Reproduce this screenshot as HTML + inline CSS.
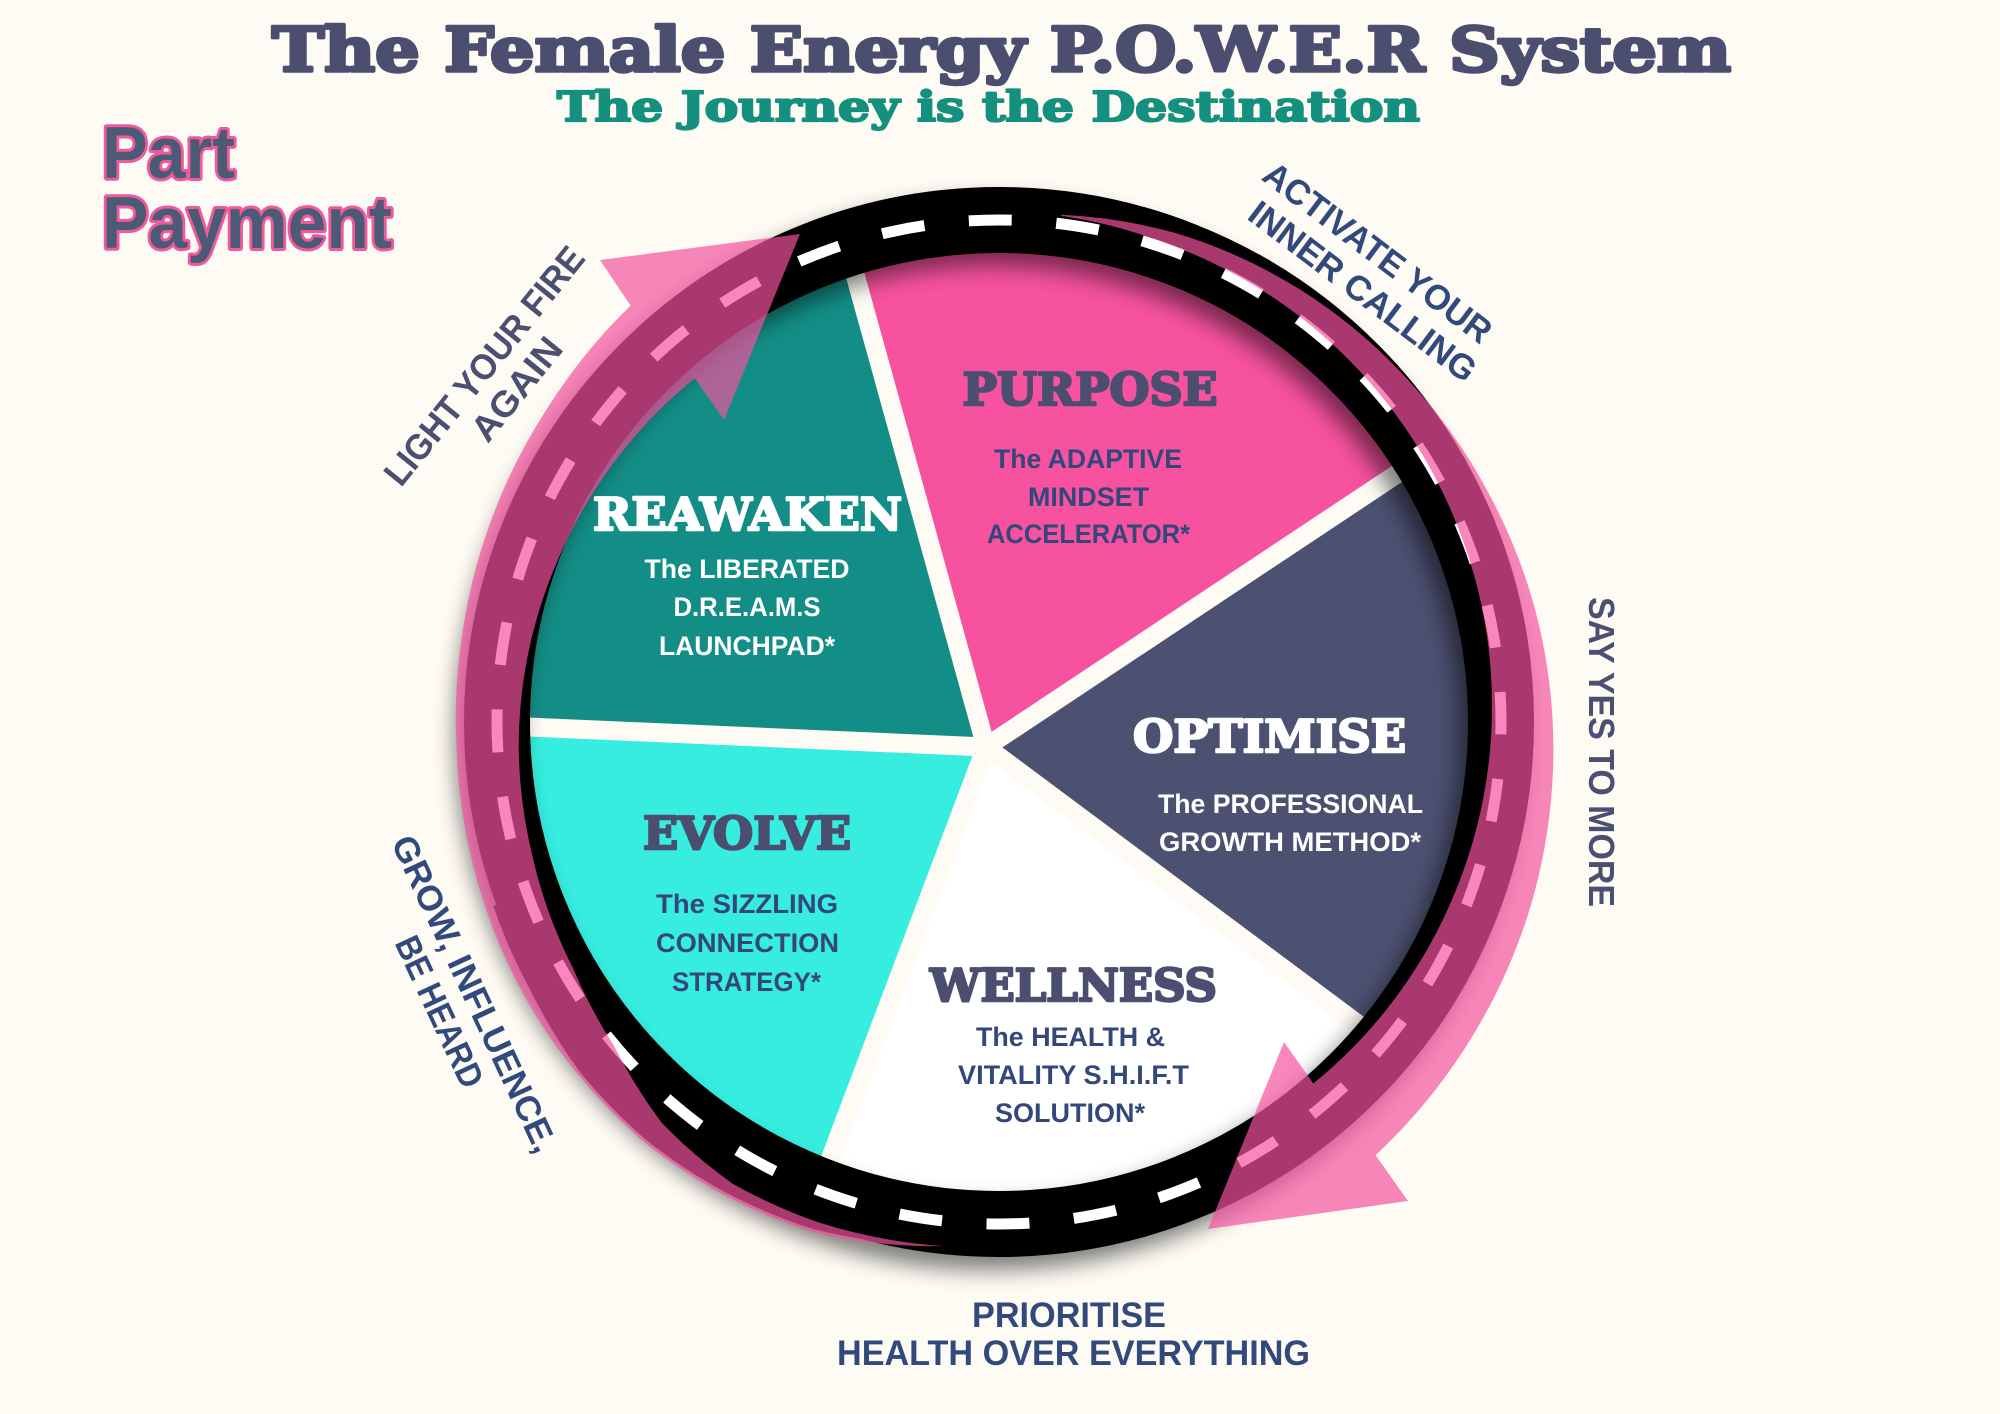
<!DOCTYPE html>
<html>
<head>
<meta charset="utf-8">
<style>
html,body{margin:0;padding:0;background:#fdfbf3;width:2000px;height:1414px;overflow:hidden;}
svg{display:block;}
.sans{font-family:"Liberation Sans","DejaVu Sans",sans-serif;font-weight:bold;}
.slab{font-family:"DejaVu Serif","Liberation Serif",serif;font-weight:bold;}
</style>
</head>
<body>
<svg width="2000" height="1414" viewBox="0 0 2000 1414" xmlns="http://www.w3.org/2000/svg">
<defs>
  <clipPath id="pieclip"><circle cx="999" cy="722" r="482"/></clipPath>
  <filter id="blur" x="-10%" y="-10%" width="120%" height="120%"><feGaussianBlur stdDeviation="11"/></filter>
</defs>
<rect width="2000" height="1414" fill="#fdfbf3"/>

<!-- Pie slices -->
<g clip-path="url(#pieclip)">
  <polygon points="986,747 806.6,100 1652.3,100 1652.3,304.3" fill="#f6529f"/>
  <polygon points="986,747 1652.3,304.3 1627.4,1225.1" fill="#4d5171"/>
  <polygon points="986,747 1467.1,1105.6 1467,1300 777,1300" fill="#ffffff"/>
  <polygon points="986,747 777,1300 186.8,1300 186.8,712.1" fill="#36ede0"/>
  <polygon points="986,747 186.8,712.1 186.8,100 806.6,100" fill="#138e86"/>
  <g stroke="#fdfbf3" stroke-width="19" stroke-linecap="butt">
    <line x1="986" y1="747" x2="806.6" y2="100"/>
    <line x1="986" y1="747" x2="1652.3" y2="304.3"/>
    <line x1="986" y1="747" x2="1467.1" y2="1105.6"/>
    <line x1="986" y1="747" x2="777" y2="1300"/>
    <line x1="986" y1="747" x2="186.8" y2="712.1"/>
  </g>
</g>

<!-- Ring shadow -->
<g filter="url(#blur)" opacity="0.5">
  <circle cx="990" cy="735" r="502" fill="none" stroke="#000" stroke-width="66"/>
</g>

<!-- black backing for lower-left arrow part -->
<path d="M907,1244 A540 540 0 0 1 814.3,1229.4 A542 542 0 0 1 727,1193.1 A545 545 0 0 1 647.4,1141 A546 546 0 0 1 580.7,1073 A543 543 0 0 1 531.4,992 A539 539 0 0 1 493.4,906 L501,903.3 A530 530 0 0 0 540,987 A530 530 0 0 0 593,1062.7 A530 530 0 0 0 658.3,1128 A530 530 0 0 0 734,1181 A530 530 0 0 0 817.7,1220 A530 530 0 0 0 907,1244 Z" fill="#000"/>

<!-- Road -->
<circle cx="999" cy="722" r="502" fill="none" stroke="#000" stroke-width="66"/>
<circle cx="999" cy="722" r="502" fill="none" stroke="#ffffff" stroke-width="11" stroke-dasharray="43 44.62" stroke-dashoffset="30.6"/>

<!-- Arrows (semi-transparent pink) -->
<g fill="#f3519e" opacity="0.69">
  <path d="M1061.3,214.8 A511 511 0 0 1 1176.9,233.4 A520 520 0 0 1 1301.3,290.3 A527 527 0 0 1 1407.5,379.3 A533 533 0 0 1 1488.8,493.6 A540 540 0 0 1 1539.4,626.7 A549 549 0 0 1 1553,770.5 A556 556 0 0 1 1528,914.6 A563 563 0 0 1 1464.9,1048.2 A569 569 0 0 1 1375.6,1155.2 L1408,1201 L1208,1229 L1284,1042 L1313.3,1083.5 A479 479 0 0 0 1394.6,999 A483 483 0 0 0 1456.6,888.6 A487 487 0 0 0 1488.5,764.8 A491 491 0 0 0 1487,636 A496 496 0 0 0 1451.3,511.1 A499 499 0 0 0 1383.9,399.1 A502 502 0 0 0 1288.7,308.3 A505 505 0 0 0 1172.4,245.6 A507 507 0 0 0 1061.2,215.8 Z"/>
  <path d="M943.9,1246.1 A535 535 0 0 1 813.3,1232.2 A545 545 0 0 1 725.5,1195.7 A548 548 0 0 1 645.5,1143.3 A550 550 0 0 1 578.4,1074.9 A548 548 0 0 1 524.4,996 A546 546 0 0 1 472.6,863.1 A544 544 0 0 1 456.7,750.4 A543 543 0 0 1 463.3,627.5 A545 545 0 0 1 485.9,535.3 A548 548 0 0 1 548.5,406.5 A553 553 0 0 1 630.6,305.6 L600,260 L800,234 L724,420 L694.9,378.2 A461 461 0 0 0 618.9,455.9 A467 467 0 0 0 557.3,561.3 A472 472 0 0 0 531.2,639.5 A478 478 0 0 0 518.7,747.2 A483 483 0 0 0 530.5,847.5 A488 488 0 0 0 572.9,968 A497 497 0 0 0 613.7,1045.3 A513 513 0 0 0 662.2,1123.4 A528 528 0 0 0 732.5,1183.6 A532 532 0 0 0 817,1221.9 A530 530 0 0 0 943.9,1246.1 Z"/>
</g>

<!-- Title -->
<text class="slab" x="1001.5" y="71" font-size="61" fill="#4b4e6f" stroke="#4b4e6f" stroke-width="3.5" stroke-linejoin="round" text-anchor="middle" textLength="1459" lengthAdjust="spacingAndGlyphs">The Female Energy P.O.W.E.R System</text>
<text class="slab" x="988.5" y="121" font-size="41" fill="#15907f" stroke="#15907f" stroke-width="2.2" stroke-linejoin="round" text-anchor="middle" textLength="863" lengthAdjust="spacingAndGlyphs">The Journey is the Destination</text>

<!-- Part Payment -->
<g class="sans" font-size="73" fill="#4b5b75" stroke="#f2589c" stroke-width="6" paint-order="stroke" stroke-linejoin="round">
  <text x="102" y="178" textLength="133" lengthAdjust="spacingAndGlyphs">Part</text>
  <text x="102" y="248" textLength="290" lengthAdjust="spacingAndGlyphs">Payment</text>
</g>

<!-- Slice headings -->
<g class="slab" font-size="45" text-anchor="middle" stroke-width="2.5" stroke-linejoin="round">
  <text x="1090" y="405" fill="#4b4e6f" stroke="#4b4e6f" textLength="255" lengthAdjust="spacingAndGlyphs">PURPOSE</text>
  <text x="747.5" y="530" fill="#ffffff" stroke="#ffffff" textLength="309" lengthAdjust="spacingAndGlyphs">REAWAKEN</text>
  <text x="1269.5" y="752" fill="#ffffff" stroke="#ffffff" textLength="273" lengthAdjust="spacingAndGlyphs">OPTIMISE</text>
  <text x="747" y="849" fill="#4b4e6f" stroke="#4b4e6f" textLength="208" lengthAdjust="spacingAndGlyphs">EVOLVE</text>
  <text x="1073.5" y="1001" fill="#4b4e6f" stroke="#4b4e6f" textLength="287" lengthAdjust="spacingAndGlyphs">WELLNESS</text>
</g>

<!-- Slice subtexts -->
<g class="sans" font-size="27" text-anchor="middle">
  <g fill="#34477b">
    <text x="1088" y="468" textLength="188" lengthAdjust="spacingAndGlyphs">The ADAPTIVE</text>
    <text x="1088.5" y="506" textLength="121" lengthAdjust="spacingAndGlyphs">MINDSET</text>
    <text x="1088.5" y="543" textLength="203" lengthAdjust="spacingAndGlyphs">ACCELERATOR*</text>

    <text x="747" y="913" textLength="182" lengthAdjust="spacingAndGlyphs">The SIZZLING</text>
    <text x="747.5" y="952" textLength="183" lengthAdjust="spacingAndGlyphs">CONNECTION</text>
    <text x="746.5" y="991" textLength="149" lengthAdjust="spacingAndGlyphs">STRATEGY*</text>

    <text x="1070.5" y="1046" textLength="189" lengthAdjust="spacingAndGlyphs">The HEALTH &amp;</text>
    <text x="1073.5" y="1084" textLength="231" lengthAdjust="spacingAndGlyphs">VITALITY S.H.I.F.T</text>
    <text x="1070" y="1122" textLength="150" lengthAdjust="spacingAndGlyphs">SOLUTION*</text>
  </g>
  <g fill="#ffffff">
    <text x="747" y="578" textLength="205" lengthAdjust="spacingAndGlyphs">The LIBERATED</text>
    <text x="747" y="616" textLength="147" lengthAdjust="spacingAndGlyphs">D.R.E.A.M.S</text>
    <text x="747" y="655" textLength="176" lengthAdjust="spacingAndGlyphs">LAUNCHPAD*</text>

    <text x="1290.5" y="813" textLength="265" lengthAdjust="spacingAndGlyphs">The PROFESSIONAL</text>
    <text x="1290" y="851" textLength="262" lengthAdjust="spacingAndGlyphs">GROWTH METHOD*</text>
  </g>
</g>

<!-- Side texts -->
<g class="sans" text-anchor="middle">
  <g fill="#4b5072" font-size="36">
    <text transform="translate(493.8,373.5) rotate(-51)" x="0" y="0" textLength="295" lengthAdjust="spacingAndGlyphs">LIGHT YOUR FIRE</text>
    <text transform="translate(526.2,396.8) rotate(-51)" x="0" y="0" textLength="122" lengthAdjust="spacingAndGlyphs">AGAIN</text>
    <text transform="translate(1589,752) rotate(90)" x="0" y="0" textLength="310" lengthAdjust="spacingAndGlyphs">SAY YES TO MORE</text>
  </g>
  <g fill="#32497c" font-size="35">
    <text transform="translate(1370.5,262) rotate(37)" x="0" y="0" textLength="276" lengthAdjust="spacingAndGlyphs">ACTIVATE YOUR</text>
    <text transform="translate(1355.5,301) rotate(37)" x="0" y="0" textLength="275" lengthAdjust="spacingAndGlyphs">INNER CALLING</text>
    <text transform="translate(463.7,998.8) rotate(65)" x="0" y="0" textLength="345" lengthAdjust="spacingAndGlyphs">GROW, INFLUENCE,</text>
    <text transform="translate(428.7,1016.8) rotate(65)" x="0" y="0" textLength="163" lengthAdjust="spacingAndGlyphs">BE HEARD</text>
    <text x="1069" y="1327" textLength="194" lengthAdjust="spacingAndGlyphs">PRIORITISE</text>
    <text x="1073.5" y="1365" textLength="473" lengthAdjust="spacingAndGlyphs">HEALTH OVER EVERYTHING</text>
  </g>
</g>
</svg>
</body>
</html>
